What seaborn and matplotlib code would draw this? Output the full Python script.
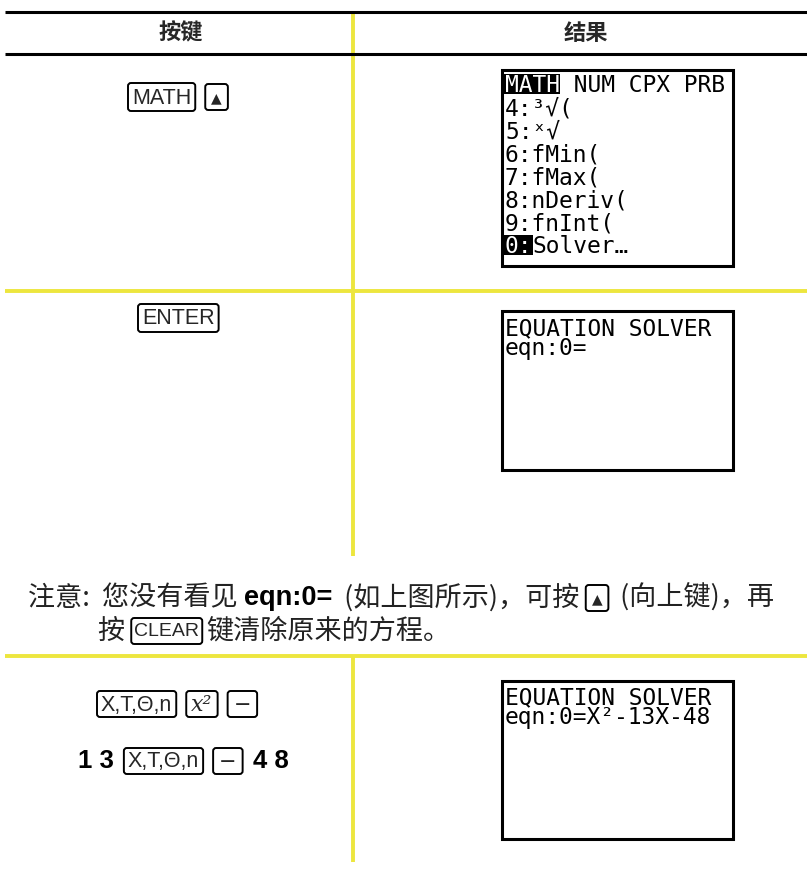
import matplotlib
matplotlib.use('Agg')
import matplotlib.pyplot as plt
from matplotlib.patches import FancyBboxPatch, Rectangle
import seaborn as sns

sns.set_theme(style='white')
plt.rcParams['font.family'] = ['Noto Sans CJK SC', 'DejaVu Sans']

# ---------------- content ----------------
headers = ['按键', '结果']
screen1_lines = ['MATH NUM CPX PRB', '4:³√(', '5:ˣ√', '6:fMin(', '7:fMax(',
                 '8:nDeriv(', '9:fnInt(', '0:Solver…']
screen1_highlight = [(0, 4), None, None, None, None, None, None, (0, 2)]
screen2_lines = ['EQUATION SOLVER', 'eqn:0=']
screen3_lines = ['EQUATION SOLVER', 'eqn:0=X²-13X-48']
row1_keys = ['MATH', '▲']
row2_keys = ['ENTER']
row3_line1 = [('key', 'X,T,Θ,n'), ('key', 'x²'), ('key', '−')]
row3_line2 = [('bold', '1 3'), ('key', 'X,T,Θ,n'), ('key', '−'), ('bold', '4 8')]
note_line1 = [('cjk', '注意:  '), ('cjk', '您没有看见 '), ('bold', 'eqn:0='),
              ('cjk', ' (如上图所示)，可按 '), ('key', '▲'), ('cjk', ' (向上键)，再')]
note_line2 = [('cjk', '按 '), ('key', 'CLEAR'), ('cjk', '键清除原来的方程。')]

YELLOW = '#EDE63E'
KEYFONT = ['Liberation Sans', 'DejaVu Sans']
MONO = 'DejaVu Sans Mono'

fig = plt.figure(figsize=(8.07, 8.91), dpi=100)
ax = fig.add_axes([0, 0, 1, 1])
ax.set_xlim(0, 807)
ax.set_ylim(891, 0)
ax.axis('off')
fig.patch.set_facecolor('white')
fig.canvas.draw()
R = fig.canvas.get_renderer()


def width(t):
    return t.get_window_extent(renderer=R).width


# ---------------- rules ----------------
ax.plot([5, 807], [12, 12], color='black', lw=2.2, solid_capstyle='butt')
ax.plot([5, 807], [54, 54], color='black', lw=2.2, solid_capstyle='butt')
ax.plot([5, 807], [291, 291], color=YELLOW, lw=2.8, solid_capstyle='butt')
ax.plot([5, 807], [656, 656], color=YELLOW, lw=2.8, solid_capstyle='butt')
ax.plot([353, 353], [13, 290], color=YELLOW, lw=2.8, solid_capstyle='butt', zorder=0)
ax.plot([353, 353], [292, 556], color=YELLOW, lw=2.8, solid_capstyle='butt', zorder=0)
ax.plot([353, 353], [657, 862], color=YELLOW, lw=2.8, solid_capstyle='butt', zorder=0)

# ---------------- headers ----------------
ax.text(181, 33, headers[0], ha='center', va='center', fontsize=16, fontweight='bold')
ax.text(586, 33, headers[1], ha='center', va='center', fontsize=16, fontweight='bold')


# ---------------- keys ----------------
def key(x, y, label, fs=15.5, family=KEYFONT, h=26, pad=4, **kw):
    t = ax.text(x + pad, y + 1, label, fontsize=fs, family=family, ha='left', va='center', **kw)
    w = width(t)
    box = FancyBboxPatch((x, y - h / 2), w + 2 * pad, h,
                         boxstyle='round,pad=0,rounding_size=3',
                         fc='none', ec='black', lw=1.4)
    ax.add_patch(box)
    return x + w + 2 * pad


def seq(x, y, items, fs_text=19, gap=8, color='#222222', kh=26):
    for kind, label in items:
        if kind == 'key':
            if label == '▲':
                x = key(x, y, label, fs=10, family=['DejaVu Sans'], pad=6, h=kh) + gap
            elif label == 'x²':
                x = key(x, y, label, fs=16, family=['DejaVu Serif'], style='italic', pad=5, h=kh) + gap
            elif label == '−':
                x = key(x, y, label, fs=15, family=['DejaVu Sans'], pad=6, h=kh) + gap
            elif label == 'CLEAR':
                x = key(x, y, label, fs=14, pad=3, h=kh) + gap
            else:
                x = key(x, y, label, h=kh) + gap
        elif kind == 'bold':
            t = ax.text(x, y, label, fontsize=fs_text, fontweight='bold',
                        family=['Liberation Sans', 'DejaVu Sans'], ha='left', va='center', color='black')
            x += width(t) + gap
        else:
            t = ax.text(x, y, label, fontsize=fs_text, ha='left', va='center', color=color,
                        style='italic')
            x += width(t)
    return x


x = key(128, 97, row1_keys[0], h=28)
key(x + 10, 97, row1_keys[1], fs=10, family=['DejaVu Sans'], pad=6, h=26)
key(138, 318, row2_keys[0], h=28)

seq(97, 704, row3_line1, gap=10)
seq(78, 761, row3_line2, fs_text=18.5, gap=10)


# ---------------- calculator screens ----------------
def screen(x0, y0, x1, y1, lines, first_y, step, highlights=None, fs=16.5):
    ax.add_patch(Rectangle((x0, y0), x1 - x0, y1 - y0, fc='white', ec='black', lw=2.2))
    probe = ax.text(0, 0, 'M' * 10, fontsize=fs, family=MONO)
    pitch = width(probe) / 10
    probe.remove()
    cap = fs * 100 / 72 * 0.73
    if highlights is None:
        px = fs * 100 / 72
        ax.text(x0 + 3, first_y - cap / 2, '\n'.join(lines), fontsize=fs, family=MONO,
                color='black', ha='left', va='top',
                linespacing=step / (px * 1.17), zorder=4)
        return
    for i, line in enumerate(lines):
        base = first_y + i * step + cap / 2
        hl = highlights[i]
        if hl:
            a, b = hl
            ax.add_patch(Rectangle((x0 + 3 + a * pitch - 1, base - cap - 2), (b - a) * pitch + 1, cap + 4,
                                   fc='black', ec='none', zorder=3))
            ax.text(x0 + 3, base, line[:b], fontsize=fs, family=MONO, color='white',
                    ha='left', va='baseline', zorder=4)
            ax.text(x0 + 3 + b * pitch, base, line[b:], fontsize=fs, family=MONO, color='black',
                    ha='left', va='baseline', zorder=4)
        else:
            ax.text(x0 + 3, base, line, fontsize=fs, family=MONO, color='black',
                    ha='left', va='baseline', zorder=4)


screen(502, 70, 733, 266, screen1_lines, 84, 23, screen1_highlight)
screen(502, 311, 733, 470, screen2_lines, 326, 21)
screen(502, 681, 733, 839, screen3_lines, 695, 21)

# ---------------- note ----------------
seq(28, 598, note_line1, fs_text=19.5, gap=6)
seq(98, 631, note_line2, fs_text=19.5, gap=4)

fig.savefig('out.png', dpi=100, facecolor='white')
